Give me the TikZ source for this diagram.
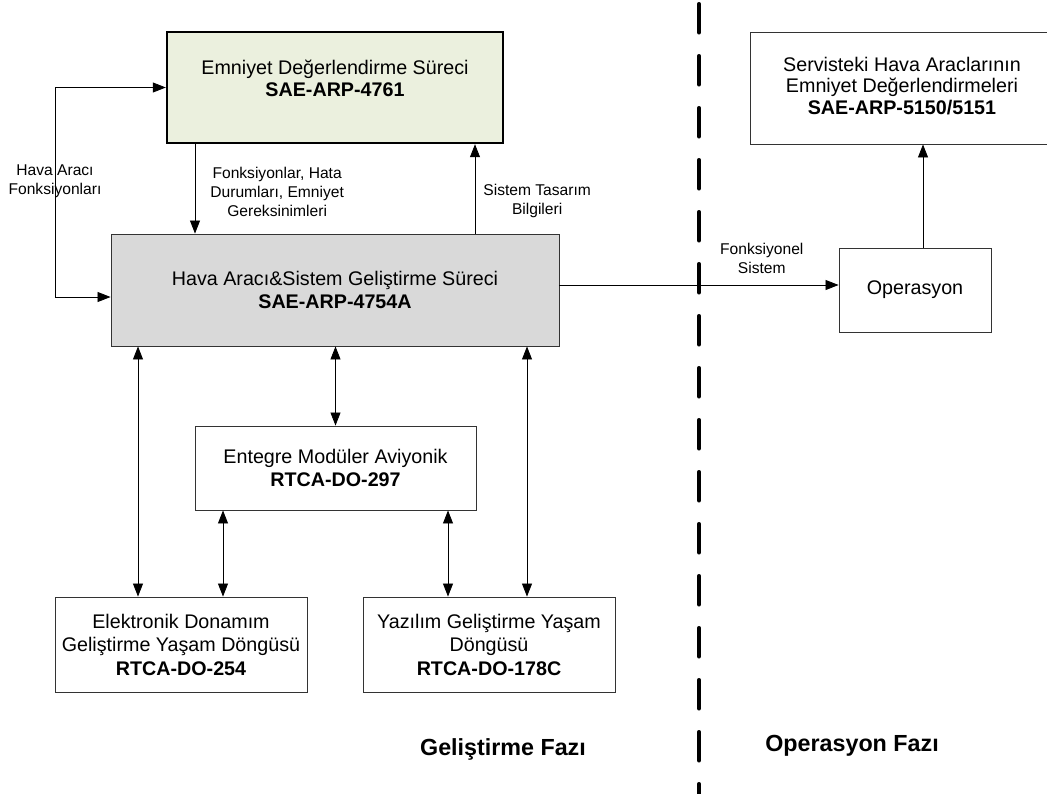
\documentclass[tikz,border=0pt]{standalone}
\usepackage{fontspec}
\setmainfont{Liberation Sans}
\usetikzlibrary{arrows.meta,positioning}
\definecolor{safetyfill}{RGB}{235,240,222}
\definecolor{devfill}{RGB}{217,217,217}
\begin{document}
\begin{tikzpicture}
  [x=1pt,y=-1pt,
   box/.style={rectangle,draw=black!80,line width=0.9pt,align=center,
               inner sep=2pt,font=\fontsize{19.7}{23.5}\selectfont},
   safety/.style={box,draw=black,line width=2.4pt,fill=safetyfill},
   dev/.style={box,fill=devfill},
   lbl/.style={align=center,inner sep=0pt,font=\fontsize{15.6}{19}\selectfont},
   phase/.style={inner sep=0pt,font=\fontsize{23.3}{26}\selectfont\bfseries},
   arr/.style={-{Triangle[length=13pt,width=10pt]},line width=0.8pt},
   biarr/.style={{Triangle[length=13pt,width=10pt]}-{Triangle[length=13pt,width=10pt]},line width=0.8pt}]
  \useasboundingbox (0,0) rectangle (1047,793);
  % boxes
  \node[safety,minimum width=336,minimum height=111] (top) at (335,87.5) {};
  \node[box,draw=none,fill=none,font=\fontsize{19.7}{22}\selectfont] (toptext) at ([yshift=9.5pt]top.center)
    {Emniyet Değerlendirme Süreci\\\textbf{SAE-ARP-4761}};
  \node[dev,minimum width=448,minimum height=112] (main) at (335,290)
    {Hava Aracı\&Sistem Geliştirme Süreci\\\textbf{SAE-ARP-4754A}};
  \node[box,minimum width=281,minimum height=84] (ima) at (335.5,468)
    {Entegre Modüler Aviyonik\\\textbf{RTCA-DO-297}};
  \node[box,minimum width=252,minimum height=95] (hw) at (181,644.5)
    {Elektronik Donamım\\Geliştirme Yaşam Döngüsü\\\textbf{RTCA-DO-254}};
  \node[box,minimum width=252,minimum height=95] (sw) at (489,644.5)
    {Yazılım Geliştirme Yaşam\\Döngüsü\\\textbf{RTCA-DO-178C}};
  \node[box,minimum width=152,minimum height=84] (op) at (915,290) {Operasyon};
  \node[box,minimum width=304,minimum height=112] (sr) at (902,88) {};
  \node[box,draw=none,fill=none,font=\fontsize{19.7}{21.5}\selectfont] (srtext) at ([yshift=2pt]sr.center)
    {Servisteki Hava Araclarının\\Emniyet Değerlendirmeleri\\\textbf{SAE-ARP-5150/5151}};
  \node[phase] (devphase) at (503,749) {Geliştirme Fazı};
  \node[phase] (opphase) at (852,746) {Operasyon Fazı};
  % phase border
  \coordinate (sepTop) at (699,3.75);
  \coordinate (sepBot) at (699,800);
  \draw[line width=3.5pt,line cap=round,dash pattern=on 29pt off 23pt] (sepTop) -- (sepBot);
  % connectors
  \coordinate (loopx) at (55,0);
  \coordinate (mainin) at ([yshift=-7pt]main.west);
  \draw[biarr] (top.west) -- (top.west -| loopx)
    -- node[lbl,midway,yshift=11pt] {Hava Aracı\\Fonksiyonları} (mainin -| loopx) -- (mainin);
  \coordinate (dn) at ([xshift=-140pt]top.south);
  \draw[arr] (dn) -- node[lbl,midway,right=15pt,yshift=-3pt]
    {Fonksiyonlar, Hata\\Durumları, Emniyet\\Gereksinimleri} (dn |- main.north);
  \coordinate (up) at ([xshift=140pt]main.north);
  \draw[arr] (up) -- node[lbl,midway,right=8pt,yshift=-12pt]
    {Sistem Tasarım\\Bilgileri} (up |- top.south);
  \draw[arr] ([yshift=5pt]main.east) -- node[lbl,pos=0.725,above=11pt]
    {Fonksiyonel\\Sistem} ([yshift=5pt]op.west);
  \coordinate (opup) at ([xshift=8pt]op.north);
  \draw[arr] (opup) -- (opup |- sr.south);
  \coordinate (hwL) at ([xshift=-43pt]hw.north);
  \coordinate (hwR) at ([xshift=42pt]hw.north);
  \coordinate (swL) at ([xshift=-41pt]sw.north);
  \coordinate (swR) at ([xshift=38pt]sw.north);
  \draw[biarr] (main.south -| ima.north) -- (ima.north);
  \draw[biarr] (main.south -| hwL) -- (hwL);
  \draw[biarr] (ima.south -| hwR) -- (hwR);
  \draw[biarr] (ima.south -| swL) -- (swL);
  \draw[biarr] (main.south -| swR) -- (swR);
\end{tikzpicture}
\end{document}
